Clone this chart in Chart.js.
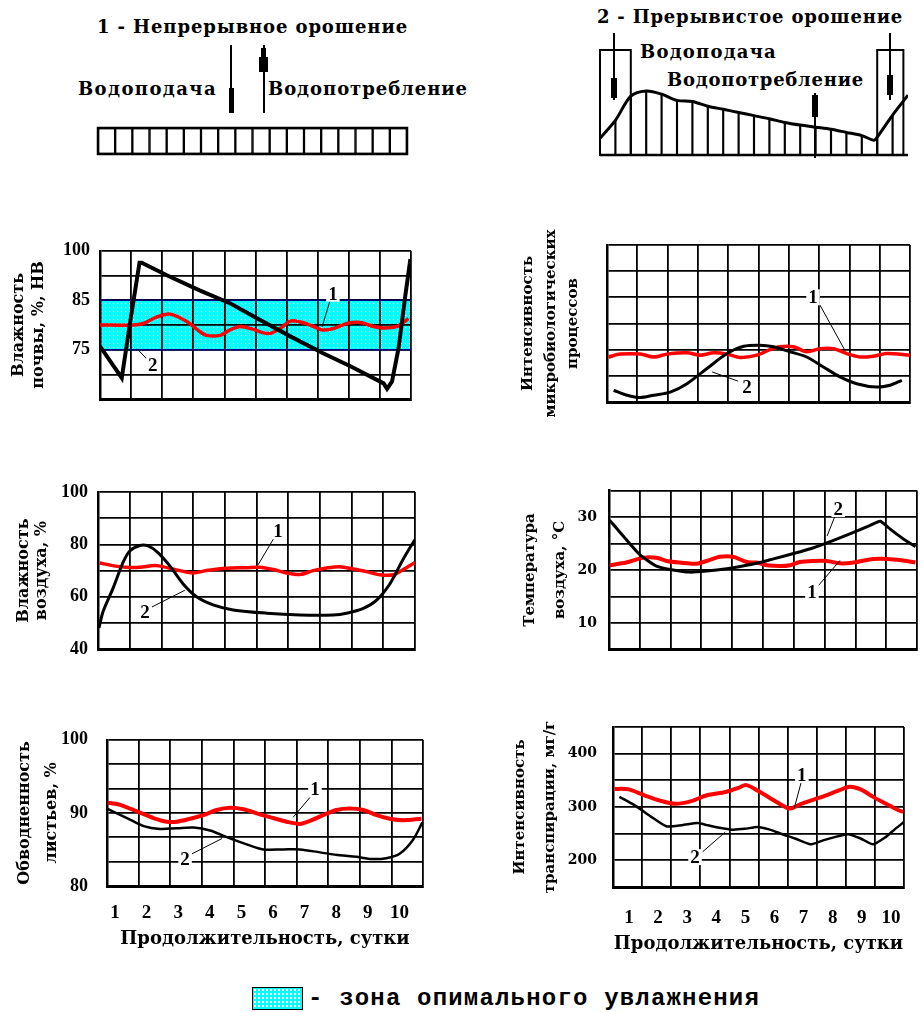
<!DOCTYPE html>
<html lang="ru">
<head>
<meta charset="utf-8">
<title>Непрерывное и прерывистое орошение</title>
<script src="https://cdn.jsdelivr.net/npm/chart.js"></script>
<style>
  html, body { margin: 0; background: #fff; }
  body { position: relative; width: 924px; height: 1012px; overflow: hidden;
         font-family: "DejaVu Serif", serif; font-weight: bold; color: #000; }
  canvas, .t, .bar { position: absolute; }
  .t { white-space: nowrap; line-height: 1; font-size: 18px; }
  .bar { background: #000; }
  #swatch { position: absolute; left: 252px; top: 987px; width: 49px; height: 21px;
            border: 1.5px solid #000; background-color: #00ffff;
            background-image: radial-gradient(#fff 0.9px, transparent 1.2px); background-size: 4px 4px; }
</style>
</head>
<body>
<!-- схема 1 -->
<div class="t" data-w="311" style="left:97px;top:18px">1 - Непрерывное орошение</div>
<div class="t" data-w="139" style="left:78px;top:80px">Водоподача</div>
<div class="t" data-w="200" style="left:268px;top:80px">Водопотребление</div>
<div class="bar" style="left:230px;top:45px;width:2px;height:68px"></div>
<div class="bar" style="left:229px;top:88px;width:5px;height:25px"></div>
<div class="bar" style="left:263px;top:45px;width:2px;height:68px"></div>
<div class="bar" style="left:259px;top:57px;width:9px;height:15px"></div>
<div class="bar" style="left:261px;top:48px;width:5px;height:10px"></div>
<canvas id="strip" style="left:90px;top:120px" width="325" height="42"></canvas>

<!-- схема 2 -->
<div class="t" data-w="306" style="left:597px;top:8px">2 - Прерывистое орошение</div>
<div class="t" data-w="137" style="left:640px;top:43px">Водоподача</div>
<div class="t" data-w="197" style="left:667px;top:71px">Водопотребление</div>
<canvas id="pulse" style="left:590px;top:40px" width="330" height="125"></canvas>
<div class="bar" style="left:613px;top:33px;width:2px;height:67px"></div>
<div class="bar" style="left:611px;top:78px;width:6px;height:20px"></div>
<div class="bar" style="left:889px;top:33px;width:2px;height:67px"></div>
<div class="bar" style="left:887px;top:75px;width:6px;height:20px"></div>
<div class="bar" style="left:814px;top:93px;width:2px;height:65px"></div>
<div class="bar" style="left:812px;top:95px;width:6px;height:22px"></div>

<!-- графики -->
<canvas id="p1" style="left:0;top:230px" width="430" height="190"></canvas>
<canvas id="p2" style="left:500px;top:200px" width="424" height="220"></canvas>
<canvas id="p3" style="left:0;top:470px" width="430" height="200"></canvas>
<canvas id="p4" style="left:500px;top:470px" width="424" height="200"></canvas>
<canvas id="p5" style="left:0;top:710px" width="440" height="245"></canvas>
<canvas id="p6" style="left:500px;top:700px" width="424" height="265"></canvas>

<div id="swatch"></div>
<div class="t" data-w="452" style="left:308px;top:987px;font-family:'Liberation Mono',monospace;font-size:24px">- зона опимального увлажнения</div>

<script>
// оси: сутки от 0 до 10, подписи 1..10 по центру клеток
const dayLabels = ['1', '2', '3', '4', '5', '6', '7', '8', '9', '10'];

// схема 1: равномерный слой воды
const stripCells = ['1','2','3','4','5','6','7','8','9','10','11','12','13','14','15','16','17','18'];
const stripLevel = [1, 1, 1, 1, 1, 1, 1, 1, 1, 1, 1, 1, 1, 1, 1, 1, 1, 1];

// схема 2: запас воды между поливами
const pulseX = [0, 1, 2, 3, 4, 5, 6, 7, 8, 9, 10, 11, 12, 13, 14, 15, 16, 17, 17.8, 18, 19, 20];
const pulseY = [16, 33, 56, 61, 58, 52, 51, 46.5, 43.5, 40.5, 37.5, 34.5, 31, 28.5, 26.5, 24.5, 21.5, 18.5, 14, 17, 38, 57];
const supplyPeriods = [[0, 2], [18, 19.7]];

// влажность почвы, %НВ
const soilRows = [65, 70, 75, 80, 85, 92.5, 100];
const soilTicks = [75, 85, 100];
const soilBand = [75, 85];
const soilDays1 = [0, 1.07, 1.39, 1.82, 2.25, 2.79, 3.22, 3.43, 3.86, 4.18, 4.51, 4.94, 5.26, 5.47, 5.79, 6.12, 6.44, 6.87, 7.14, 7.51, 7.94, 8.37, 8.8, 9.12, 9.55, 9.92];
const soilHum1 = [80, 80, 80.3, 81.6, 82.2, 80.7, 78.6, 77.9, 77.9, 79, 79.7, 79.1, 78.4, 78.3, 79.3, 80.8, 80.6, 79.7, 79, 79.3, 80.3, 80.5, 79.7, 79.4, 79.7, 81.3];
const soilDays2 = [0, 0.7, 0.98, 1.27, 1.34, 2.15, 3.2, 4.18, 5.15, 6.12, 7.14, 8.1, 9.12, 9.23, 9.39, 9.6, 9.82, 9.98];
const soilHum2 = [75.7, 69.3, 81, 96.4, 96.4, 92.6, 88.0, 84.4, 81.0, 77.7, 74.4, 71.5, 68.2, 67.1, 68.6, 75.3, 86.6, 97.5];

// интенсивность микробиологических процессов (усл. клетки)
const microRows = [0, 1, 2, 3, 4, 5, 6];
const microDays1 = [0.05, 0.44, 1.1, 1.54, 1.98, 2.64, 3.08, 3.52, 3.96, 4.4, 4.95, 5.38, 5.71, 6.15, 6.59, 7.03, 7.47, 7.91, 8.35, 8.79, 9.23, 10];
const microVal1 = [1.72, 1.83, 1.83, 1.72, 1.83, 1.88, 1.79, 1.88, 1.83, 1.7, 1.79, 2.0, 2.11, 2.11, 1.92, 2.04, 2.04, 1.85, 1.72, 1.75, 1.85, 1.79];
const microDays2 = [0.22, 0.66, 1.1, 1.54, 2.09, 2.64, 3.3, 3.96, 4.51, 5.05, 5.49, 6.04, 6.59, 7.14, 7.69, 8.24, 8.9, 9.34, 9.73];
const microVal2 = [0.45, 0.26, 0.17, 0.26, 0.38, 0.7, 1.28, 1.85, 2.13, 2.17, 2.11, 1.92, 1.72, 1.34, 0.96, 0.7, 0.57, 0.64, 0.83];

// влажность воздуха, %
const airRows = [40, 50, 60, 70, 80, 90, 100];
const airTicks = [40, 60, 80, 100];
const airDays1 = [0.05, 0.47, 0.89, 1.32, 1.84, 2.58, 3.0, 3.42, 4.05, 4.68, 5.1, 5.53, 5.95, 6.37, 6.79, 7.21, 7.63, 8.05, 8.47, 8.89, 9.32, 9.63, 10];
const airHum1 = [72.9, 71.9, 71.25, 71.25, 71.9, 70, 69.1, 70, 70.9, 71.1, 71.25, 70.4, 69.1, 68.5, 70, 71, 71.5, 70.6, 69.6, 68.4, 68.4, 70.4, 73.1];
const airDays2 = [0.03, 0.16, 0.47, 0.79, 1.0, 1.32, 1.58, 1.89, 2.26, 2.68, 3.11, 3.63, 4.26, 5.32, 6.37, 7.42, 7.84, 8.37, 8.79, 9.21, 9.63, 10];
const airHum2 = [48.1, 54.4, 63.1, 73.1, 77.5, 79.6, 79.4, 76.9, 71.9, 65, 60, 56.9, 55, 53.75, 53.1, 53.1, 53.75, 55.6, 58.75, 65, 74.4, 81.9];

// температура воздуха, °C
const tempRows = [5, 10, 15, 20, 25, 30, 35];
const tempTicks = [10, 20, 30];
const tempDays1 = [0.02, 0.56, 1.11, 1.54, 1.87, 2.3, 2.84, 3.17, 3.6, 4.03, 4.47, 4.79, 5.12, 5.55, 5.88, 6.2, 6.64, 7.07, 7.5, 7.94, 8.37, 8.8, 9.24, 9.67, 9.95];
const tempVal1 = [20.9, 21.4, 22.3, 22.3, 21.7, 21.4, 21.2, 21.7, 22.5, 22.5, 21.5, 21.4, 20.9, 20.75, 20.9, 21.5, 21.7, 21.7, 21.25, 21.4, 21.9, 22.1, 22.0, 21.7, 21.4];
const tempDays2 = [0.02, 0.46, 1.0, 1.54, 2.08, 2.62, 3.17, 3.82, 4.47, 4.9, 5.34, 5.99, 6.64, 7.29, 7.94, 8.48, 8.81, 9.13, 9.57, 9.95];
const tempVal2 = [29.4, 26.4, 22.9, 20.75, 20, 19.6, 19.8, 20.25, 20.9, 21.4, 22.1, 23.1, 24.2, 25.6, 27.1, 28.4, 29.2, 27.7, 25.8, 24.4];

// обводненность листьев, %
const leafRows = [80, 83.33, 86.67, 90, 93.33, 96.67, 100];
const leafTicks = [80, 90, 100];
const leafDays1 = [0.02, 0.42, 0.95, 1.47, 1.89, 2.21, 2.63, 3.05, 3.47, 3.89, 4.32, 4.84, 5.26, 5.68, 6.1, 6.42, 6.84, 7.26, 7.68, 8.11, 8.53, 8.95, 9.37, 9.95];
const leafVal1 = [91.4, 91.1, 90.2, 89.3, 88.8, 88.8, 89.2, 89.7, 90.4, 90.7, 90.5, 89.8, 89.3, 88.8, 88.5, 88.9, 89.7, 90.4, 90.6, 90.4, 89.7, 89.2, 89.0, 89.2];
const leafDays2 = [0, 0.63, 1.16, 1.68, 2.21, 2.74, 3.26, 3.79, 4.42, 4.95, 5.58, 6.1, 6.74, 7.37, 7.89, 8.32, 8.84, 9.26, 9.68, 9.98];
const leafVal2 = [90.6, 89.3, 88.2, 87.8, 87.9, 88.0, 87.6, 86.7, 85.7, 85.0, 85.0, 85.0, 84.6, 84.2, 84.0, 83.7, 83.8, 84.4, 86.3, 88.7];

// интенсивность транспирации, мг/г
const transRows = [150, 200, 250, 300, 350, 400, 450];
const transTicks = [200, 300, 400];
const transDays1 = [0.05, 0.54, 1.08, 1.62, 2.16, 2.69, 3.23, 3.88, 4.31, 4.58, 4.96, 5.39, 5.82, 6.09, 6.47, 6.9, 7.33, 7.76, 8.14, 8.51, 8.94, 9.38, 9.81, 9.97];
const transVal1 = [334, 333, 322, 312, 306, 311, 322, 328, 336, 341, 331, 317, 303, 297, 306, 314, 322, 331, 338, 333, 319, 306, 294, 291];
const transDays2 = [0.22, 0.75, 1.29, 1.83, 2.37, 2.91, 3.23, 3.66, 4.09, 4.53, 4.96, 5.39, 5.82, 6.25, 6.79, 7.22, 7.65, 8.08, 8.51, 8.94, 9.38, 9.7, 10];
const transVal2 = [319, 303, 282.5, 264, 266, 270, 266, 261, 257.5, 259, 262.5, 257.5, 249, 241, 230, 237.5, 244, 249, 241, 230, 244, 259, 272];

const xTitle = 'Продолжительность, сутки';
const RED = '#ff0000';
const CYAN = '#00ffff';

// подгонка ширины надписей под оригинал
document.querySelectorAll('.t[data-w]').forEach(el => {
  const w = el.getBoundingClientRect().width;
  el.style.letterSpacing = ((+el.dataset.w - w) / el.textContent.length) + 'px';
});

Chart.defaults.color = '#000';
Chart.defaults.font.family = '"DejaVu Serif", serif';

// шкала с равными клетками, у которой каждая клетка имеет своё значение
class RowScale extends Chart.LinearScale {
  static id = 'rows';
  static defaults = Chart.LinearScale.defaults;
  buildTicks() {
    return this.options.rows.map(value => ({ value }));
  }
  getPixelForValue(value) {
    const r = this.options.rows;
    const n = r.length - 1;
    let i = 0;
    while (i < n - 1 && value > r[i + 1]) i++;
    return this.getPixelForDecimal((i + (value - r[i]) / (r[i + 1] - r[i])) / n);
  }
  getValueForPixel(pixel) {
    const r = this.options.rows;
    const n = r.length - 1;
    const f = this.getDecimalForPixel(pixel) * n;
    const i = Math.min(n - 1, Math.max(0, Math.floor(f)));
    return r[i] + (f - i) * (r[i + 1] - r[i]);
  }
}
Chart.register(RowScale);

const pts = (xs, ys) => xs.map((x, i) => ({ x, y: ys[i] }));

const dotTile = (() => {
  const c = document.createElement('canvas');
  c.width = 4; c.height = 4;
  const g = c.getContext('2d');
  g.fillStyle = '#fff';
  g.fillRect(1, 1, 1, 1);
  return c;
})();

const callouts = items => ({
  id: 'callouts',
  afterDatasetsDraw(chart) {
    const { ctx, scales: { x, y } } = chart;
    ctx.save();
    items.forEach(c => {
      ctx.strokeStyle = '#000';
      ctx.lineWidth = 1;
      ctx.beginPath();
      ctx.moveTo(x.getPixelForValue(c.from[0]), y.getPixelForValue(c.from[1]));
      ctx.lineTo(x.getPixelForValue(c.to[0]), y.getPixelForValue(c.to[1]));
      ctx.stroke();
      ctx.font = 'bold 19px "Liberation Serif"';
      ctx.textAlign = 'center';
      ctx.textBaseline = 'middle';
      const px = x.getPixelForValue(c.at[0]);
      const py = y.getPixelForValue(c.at[1]);
      const w = ctx.measureText(c.text).width + 4;
      ctx.fillStyle = '#fff';
      ctx.fillRect(px - w / 2, py - 8, w, 16);
      ctx.fillStyle = '#000';
      ctx.fillText(c.text, px, py + 1);
    });
    ctx.restore();
  }
});

const band = ([lo, hi]) => ({
  id: 'band',
  beforeDraw(chart) {
    const { ctx, chartArea: a, scales: { y } } = chart;
    const top = y.getPixelForValue(hi);
    const bot = y.getPixelForValue(lo);
    ctx.save();
    ctx.fillStyle = CYAN;
    ctx.fillRect(a.left, top, a.width, bot - top);
    ctx.fillStyle = ctx.createPattern(dotTile, 'repeat');
    ctx.fillRect(a.left, top, a.width, bot - top);
    ctx.restore();
  },
  beforeDatasetsDraw(chart) {
    const { ctx, chartArea: a, scales: { y } } = chart;
    ctx.save();
    ctx.strokeStyle = '#000080';
    ctx.lineWidth = 1.5;
    [lo, hi].forEach(v => {
      const py = y.getPixelForValue(v);
      ctx.beginPath();
      ctx.moveTo(a.left, py);
      ctx.lineTo(a.right, py);
      ctx.stroke();
    });
    ctx.restore();
  }
});

function makePanel(id, p) {
  const showX = !!p.xPad;
  const extra = [callouts(p.notes)];
  if (p.band) extra.push(band(p.band));
  return new Chart(document.getElementById(id), {
    type: 'line',
    data: {
      datasets: [
        { data: pts(p.s2[0], p.s2[1]), borderColor: '#000', borderWidth: p.w2, tension: p.t2, pointRadius: 0 },
        { data: pts(p.s1[0], p.s1[1]), borderColor: RED, borderWidth: p.w1 || 3.5, tension: 0.3, pointRadius: 0 }
      ]
    },
    options: {
      responsive: false,
      animation: false,
      events: [],
      layout: { autoPadding: false, padding: { left: 0, top: p.pt, right: p.pr, bottom: 0 } },
      plugins: { legend: { display: false }, tooltip: { enabled: false } },
      scales: {
        x: {
          type: 'linear', min: 0, max: 10,
          afterFit: s => { s.height = p.xh; },
          grid: { color: '#000', lineWidth: 1.8, drawTicks: false },
          border: { color: '#000', width: 3 },
          ticks: {
            display: showX, stepSize: 1, autoSkip: false, maxRotation: 0,
            padding: p.xPad || 0, labelOffset: p.xOffset || 0,
            font: { family: '"Liberation Serif"', weight: 'bold', size: 19 },
            callback: v => (v < 10 ? dayLabels[v] : '')
          },
          title: {
            display: showX, text: xTitle,
            font: { family: '"DejaVu Serif"', weight: 'bold', size: 18, lineHeight: 1.2 },
            padding: { top: 0, bottom: p.xTitlePad || 0 }
          }
        },
        y: {
          type: 'rows', rows: p.rows, min: p.rows[0], max: p.rows[p.rows.length - 1],
          afterFit: s => { s.width = p.yw; },
          grid: { color: '#000', lineWidth: 1.8, drawTicks: false },
          border: { color: '#000', width: 2.5 },
          ticks: {
            display: !!p.ticks, padding: p.tickPad || 0, autoSkip: false,
            font: p.tickFont,
            callback: v => (p.ticks && p.ticks.includes(v) ? String(v) : '')
          },
          title: {
            display: true, text: p.yTitle,
            font: { family: '"DejaVu Serif"', weight: 'bold', size: p.tSize, lineHeight: p.tLine },
            padding: { top: p.tPad, bottom: 0 }
          }
        }
      }
    },
    plugins: extra
  });
}

const leftTick = { family: '"Liberation Serif"', weight: 'bold', size: 18 };
const rightTick = { family: '"DejaVu Serif"', weight: 'bold', size: 14 };

makePanel('p1', {
  rows: soilRows, ticks: soilTicks, band: soilBand,
  s1: [soilDays1, soilHum1], s2: [soilDays2, soilHum2], w2: 4, t2: 0,
  yw: 100, pt: 17, pr: 19, xh: 17, tickPad: 10, tickFont: leftTick,
  yTitle: ['Влажность', 'почвы, %, НВ'], tSize: 16, tLine: 1.3, tPad: 8,
  notes: [
    { text: '1', at: [7.49, 87.0], from: [7.4, 85], to: [7.14, 79.6] },
    { text: '2', at: [1.7, 71.9], from: [1.51, 73.1], to: [1.19, 75.2] }
  ]
});

makePanel('p2', {
  rows: microRows,
  s1: [microDays1, microVal1], s2: [microDays2, microVal2], w2: 3, t2: 0.3,
  yw: 107, pt: 45, pr: 14, xh: 18,
  yTitle: ['Интенсивность', 'микробиологических', 'процессов'], tSize: 15, tLine: 1.5, tPad: 17,
  notes: [
    { text: '1', at: [6.8, 4.0], from: [7.03, 3.7], to: [7.85, 1.98] },
    { text: '2', at: [4.62, 0.57], from: [4.32, 0.8], to: [3.47, 1.15] }
  ]
});

makePanel('p3', {
  rows: airRows, ticks: airTicks,
  s1: [airDays1, airHum1], s2: [airDays2, airHum2], w2: 3, t2: 0.3,
  yw: 98, pt: 22, pr: 15, xh: 18, tickPad: 10, tickFont: leftTick,
  yTitle: ['Влажность', 'воздуха, %'], tSize: 16, tLine: 1.1, tPad: 15,
  notes: [
    { text: '1', at: [5.68, 85], from: [5.55, 82.4], to: [5.05, 72.2] },
    { text: '2', at: [1.48, 54.2], from: [1.7, 56.1], to: [2.74, 62.5] }
  ]
});

makePanel('p4', {
  rows: tempRows, ticks: tempTicks,
  s1: [tempDays1, tempVal1], s2: [tempDays2, tempVal2], w2: 3, t2: 0.2, w1: 4,
  yw: 109, pt: 19, pr: 7, xh: 18, tickPad: 12, tickFont: rightTick,
  yTitle: ['Температура', 'воздуха, °C'], tSize: 15, tLine: 2, tPad: 15,
  notes: [
    { text: '2', at: [7.44, 31.5], from: [7.34, 30.2], to: [7.08, 26.4] },
    { text: '1', at: [6.59, 15.9], from: [6.79, 17], to: [7.5, 21.8] }
  ]
});

makePanel('p5', {
  rows: leafRows, ticks: leafTicks,
  s1: [leafDays1, leafVal1], s2: [leafDays2, leafVal2], w2: 2.5, t2: 0.3, w1: 4,
  yw: 107, pt: 20, pr: 17, xh: 69, tickPad: 19, tickFont: leftTick,
  xPad: 16, xOffset: 8, xTitlePad: 5,
  yTitle: ['Обводненность', 'листьев, %'], tSize: 16, tLine: 1.7, tPad: 11,
  notes: [
    { text: '1', at: [6.58, 93.2], from: [6.46, 92.3], to: [5.89, 89.4] },
    { text: '2', at: [2.47, 83.7], from: [2.69, 84.4], to: [3.64, 86.5] }
  ]
});

makePanel('p6', {
  rows: transRows, ticks: transTicks,
  s1: [transDays1, transVal1], s2: [transDays2, transVal2], w2: 2.5, t2: 0.2, w1: 4,
  yw: 113, pt: 27, pr: 3, xh: 78, tickPad: 16, tickFont: rightTick,
  xPad: 20, xOffset: 16, xTitlePad: 10,
  yTitle: ['Интенсивность', 'транспирации, мг/г'], tSize: 15, tLine: 2, tPad: 5,
  notes: [
    { text: '1', at: [6.49, 360], from: [6.46, 345], to: [6.23, 298] },
    { text: '2', at: [2.82, 206], from: [3.08, 216], to: [3.86, 253] }
  ]
});

// схема 1 — полоса из клеток
new Chart(document.getElementById('strip'), {
  type: 'bar',
  data: {
    labels: stripCells,
    datasets: [{ data: stripLevel, backgroundColor: '#fff', borderColor: '#000', borderWidth: 1.5,
                 borderSkipped: false, barPercentage: 1, categoryPercentage: 1 }]
  },
  options: {
    responsive: false, animation: false, events: [],
    layout: { autoPadding: false, padding: 8 },
    plugins: { legend: { display: false }, tooltip: { enabled: false } },
    scales: { x: { display: false }, y: { display: false, min: 0, max: 1 } }
  },
  plugins: [{
    id: 'frame',
    afterDatasetsDraw(chart) {
      const { ctx, chartArea: a } = chart;
      ctx.save();
      ctx.lineWidth = 2.5;
      ctx.strokeStyle = '#000';
      ctx.strokeRect(a.left, a.top, a.width, a.height);
      ctx.restore();
    }
  }]
});

// схема 2 — кривая запаса воды со штриховкой
const pulsePts = pts(pulseX, pulseY);
new Chart(document.getElementById('pulse'), {
  type: 'bar',
  data: {
    datasets: [
      { type: 'line', data: pulsePts, borderColor: '#000', borderWidth: 3, tension: 0.3, pointRadius: 0 },
      { type: 'bar', data: pulsePts.filter(p => Number.isInteger(p.x) && p.x > 0 && p.x < 20),
        backgroundColor: '#000', barThickness: 1.5, grouped: false }
    ]
  },
  options: {
    responsive: false, animation: false, events: [],
    layout: { autoPadding: false, padding: { left: 10, top: 10, right: 12, bottom: 10 } },
    plugins: { legend: { display: false }, tooltip: { enabled: false } },
    scales: {
      x: { type: 'linear', display: false, min: 0, max: 20, offset: false },
      y: { display: false, min: 0, max: 100 }
    }
  },
  plugins: [{
    id: 'supply',
    afterDatasetsDraw(chart) {
      const { ctx, scales: { x, y } } = chart;
      ctx.save();
      ctx.strokeStyle = '#000';
      ctx.lineWidth = 2;
      supplyPeriods.forEach(([a, b]) => {
        const l = x.getPixelForValue(a), r = x.getPixelForValue(b);
        const t = y.getPixelForValue(100), btm = y.getPixelForValue(0);
        ctx.strokeRect(l, t, r - l, btm - t);
      });
      ctx.lineWidth = 2.5;
      ctx.beginPath();
      ctx.moveTo(x.getPixelForValue(0), y.getPixelForValue(0));
      ctx.lineTo(x.getPixelForValue(20), y.getPixelForValue(0));
      ctx.stroke();
      ctx.restore();
    }
  }]
});
</script>
</body>
</html>
